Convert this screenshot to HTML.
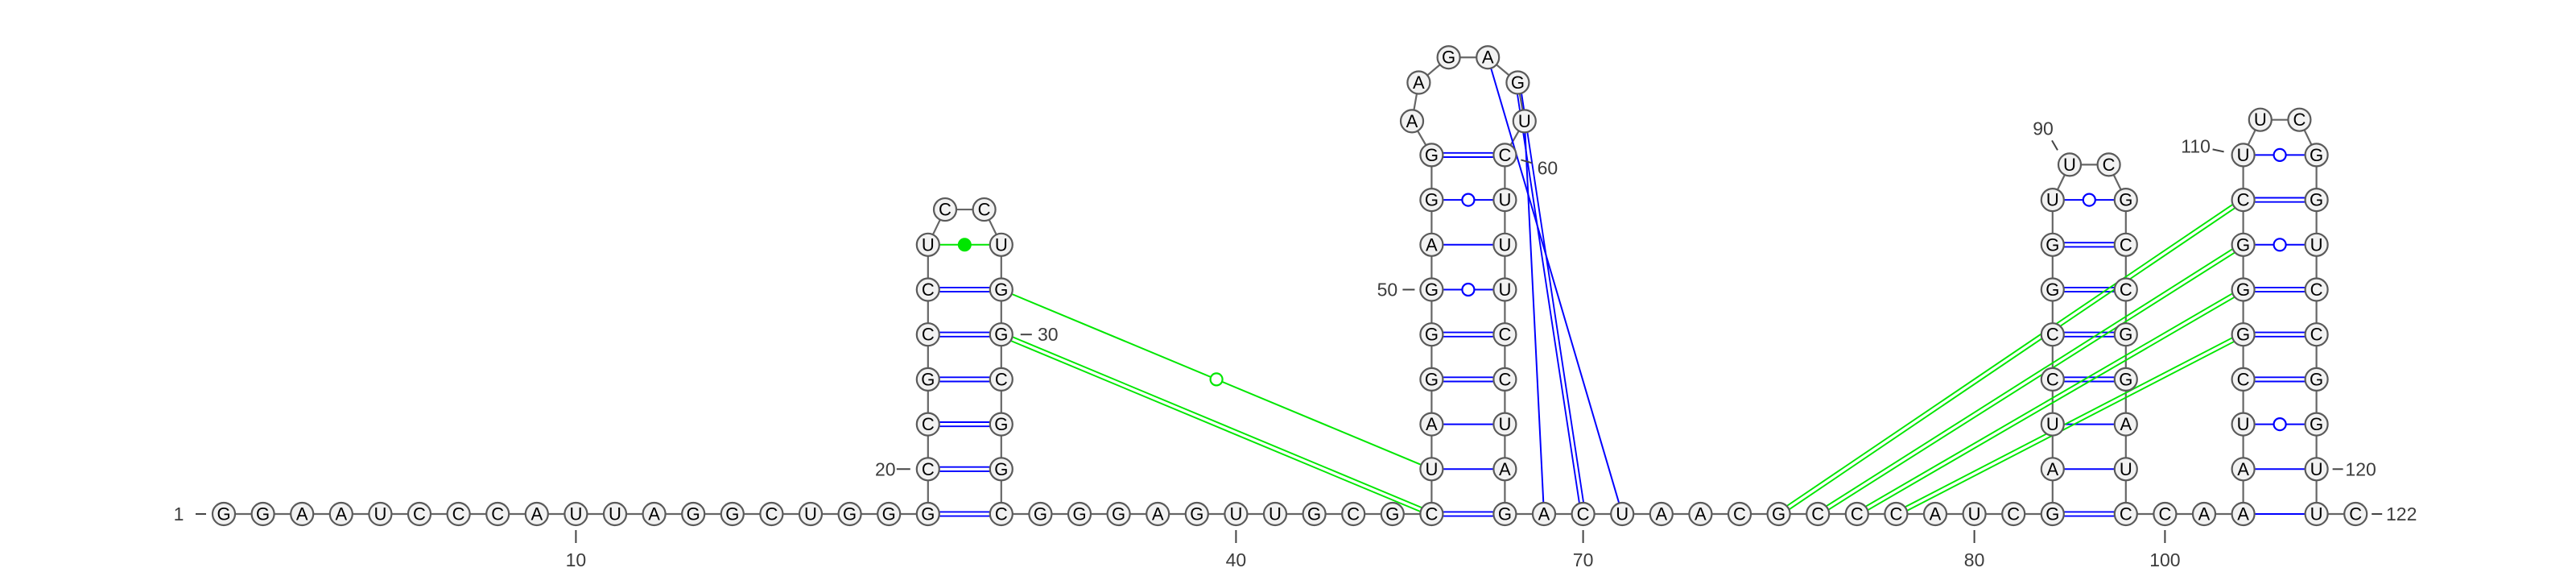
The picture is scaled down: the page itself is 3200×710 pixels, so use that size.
<!DOCTYPE html>
<html><head><meta charset="utf-8"><style>
html,body{margin:0;padding:0;background:#fff;}
svg{display:block;}
text{font-family:"Liberation Sans","DejaVu Sans",sans-serif;}
</style></head><body>
<svg id="chart" width="3200" height="710" viewBox="0 0 3200 710" xmlns="http://www.w3.org/2000/svg">
<rect width="3200" height="710" fill="#fff"/>
<g id="bb"></g>
<g id="pairs"></g>
<g id="nts"></g>
<g id="labels"></g>
</svg>
<script>
const sequence = "GGAAUCCCAU" + "UAGGCUGGGC" + "CGCCUCCUGG" + "CGGCGGGAGU" + "UGCGCUAGGG" + "AGGAAGAGUC" + "UUUCCUAGAC" + "UAACGCCCAU" + "CGAUCCGGUU" + "CGCCGGAUCC" + "AAAUCGGGCU" + "UCGGUCCGGU" + "UC";
// helices used for layout: [5' start, 3' end, number of stacked pairs]
const helices = [[19,34,7],[45,68,9],[82,99,8],[102,121,9]];
// secondary structure pairs (blue): d = double (GC), s = single (AU), w = wobble (GU), n = non-canonical
const stemPairs = [
 [19,34,'d'],[20,33,'d'],[21,32,'d'],[22,31,'d'],[23,30,'d'],[24,29,'d'],
 [45,68,'d'],[46,67,'s'],[47,66,'s'],[48,65,'d'],[49,64,'d'],[50,63,'w'],[51,62,'s'],[52,61,'w'],[53,60,'d'],
 [82,99,'d'],[83,98,'s'],[84,97,'s'],[85,96,'d'],[86,95,'d'],[87,94,'d'],[88,93,'d'],[89,92,'w'],
 [102,121,'s'],[103,120,'s'],[104,119,'w'],[105,118,'d'],[106,117,'d'],[107,116,'d'],[108,115,'w'],[109,114,'d'],[110,113,'w']
];
const pseudoknotPairs = [[57,71,'s'],[58,70,'d'],[59,69,'s']];
const tertiaryPairs = [[25,28,'n'],[29,46,'w'],[30,45,'d'],[75,109,'d'],[76,108,'d'],[77,107,'d'],[78,106,'d']];
const numberLabels = [1,10,20,30,40,50,60,70,80,90,100,110,120,122];

const NS="http://www.w3.org/2000/svg";
const STEP=48.6, STEMW=91, ROW=55.7, BASEY=638, X0=278, R=14;
function mk(tag,attrs,parent){const e=document.createElementNS(NS,tag);for(const k in attrs)e.setAttribute(k,attrs[k]);parent.appendChild(e);return e;}

// ---- layout ----
const N=sequence.length;
const pos=new Array(N+1);
function loopRadius(n){ // n loop nts, n+1 edges of STEP, closing chord STEMW
  let lo=STEMW/2+1e-6, hi=1000;
  const f=r=>(n+1)*2*Math.asin(STEP/2/r)+2*Math.asin(STEMW/2/r)-2*Math.PI;
  for(let k=0;k<80;k++){const m=(lo+hi)/2; if(f(m)>0) lo=m; else hi=m;}
  return (lo+hi)/2;
}
let cursor=X0, i=1;
while(i<=N){
  const h=helices.find(q=>q[0]===i);
  if(!h){pos[i]={x:cursor,y:BASEY};cursor+=STEP;i++;continue;}
  const [s,e,len]=h; const lx=cursor, rx=cursor+STEMW;
  for(let k=0;k<len;k++){pos[s+k]={x:lx,y:BASEY-k*ROW};pos[e-k]={x:rx,y:BASEY-k*ROW};}
  const a=s+len-1,b=e-len+1,n=b-a-1,topY=BASEY-(len-1)*ROW;
  const rr=loopRadius(n),hh=Math.sqrt(rr*rr-STEMW*STEMW/4);
  const cx=(lx+rx)/2, cy=topY-hh;
  const th0=Math.atan2(topY-cy,lx-cx), d=2*Math.asin(STEP/2/rr);
  for(let k=1;k<=n;k++){const t=th0+k*d;pos[a+k]={x:cx+rr*Math.cos(t),y:cy+rr*Math.sin(t)};}
  cursor=rx+STEP; i=e+1;
}

// ---- backbone ----
const bb=document.getElementById('bb');
for(let k=1;k<N;k++){
  const l=mk('line',{x1:pos[k].x,y1:pos[k].y,x2:pos[k+1].x,y2:pos[k+1].y,stroke:'#666','stroke-width':2.2},bb);
  
  
}

// ---- pairs ----
const pg=document.getElementById('pairs');
function drawPair(p,color,group){
  const A=pos[p[0]],B=pos[p[1]],t=p[2];
  const g=mk('g',{},pg);
  
  
  const dx=B.x-A.x,dy=B.y-A.y,L=Math.hypot(dx,dy),ux=dx/L,uy=dy/L,nx=-uy,ny=ux;
  const x1=A.x+ux*R,y1=A.y+uy*R,x2=B.x-ux*R,y2=B.y-uy*R;
  if(t==='d'){
    for(const o of [-2.6,2.6]) mk('line',{x1:x1+nx*o,y1:y1+ny*o,x2:x2+nx*o,y2:y2+ny*o,stroke:color,'stroke-width':1.9},g);
  } else {
    mk('line',{x1:x1,y1:y1,x2:x2,y2:y2,stroke:color,'stroke-width':2},g);
    const mx=(A.x+B.x)/2,my=(A.y+B.y)/2;
    if(t==='w') mk('circle',{cx:mx,cy:my,r:7.5,fill:'#fff',stroke:color,'stroke-width':2.2},g);
    if(t==='n') mk('circle',{cx:mx,cy:my,r:8,fill:color,stroke:color,'stroke-width':1},g);
  }
}
stemPairs.forEach(p=>drawPair(p,'#0000ff','stem'));
pseudoknotPairs.forEach(p=>drawPair(p,'#0000ff','pseudoknot'));
tertiaryPairs.forEach(p=>drawPair(p,'#00e600','tertiary'));

// ---- nucleotides ----
const ng=document.getElementById('nts');
for(let k=1;k<=N;k++){
  const g=mk('g',{},ng);
  
  
  mk('circle',{cx:pos[k].x,cy:pos[k].y,r:R,fill:'#f2f2f2',stroke:'#5a5a5a','stroke-width':2.2},g);
  const t=mk('text',{x:pos[k].x,y:pos[k].y+7.5,'text-anchor':'middle','font-size':22,fill:'#000'},g);
  t.textContent=sequence[k-1];
}

// ---- number labels ----
const lg=document.getElementById('labels');
const below=[10,40,70,80,100], left={1:[-56,-35,-22],20:[-53,-39,-22],50:[-55,-36,-21]}, right={30:[58,24,38],120:[55,20,33],122:[57,20,33]};
const custom={60:{t:[53,16],l:[20,6,34,10]},90:{t:[-33,-45],l:[-22,-30,-15,-18]},110:{t:[-59,-11],l:[-38,-7,-24,-4]}};
numberLabels.forEach(n=>{
  const P=pos[n];
  const g=mk('g',{},lg);
  
  
  let tx,ty,l;
  if(below.includes(n)){l=[P.x,P.y+20,P.x,P.y+36];tx=P.x;ty=P.y+57;}
  else if(left[n]){const o=left[n];l=[P.x+o[1],P.y,P.x+o[2],P.y];tx=P.x+o[0];ty=P.y;}
  else if(right[n]){const o=right[n];l=[P.x+o[1],P.y,P.x+o[2],P.y];tx=P.x+o[0];ty=P.y;}
  else {const c=custom[n];l=[P.x+c.l[0],P.y+c.l[1],P.x+c.l[2],P.y+c.l[3]];tx=P.x+c.t[0];ty=P.y+c.t[1];}
  mk('line',{x1:l[0],y1:l[1],x2:l[2],y2:l[3],stroke:'#444','stroke-width':2},g);
  const t=mk('text',{x:tx,y:ty+8,'text-anchor':'middle','font-size':23,fill:'#3c3c3c'},g);
  t.textContent=String(n);
});
</script>
</body></html>
